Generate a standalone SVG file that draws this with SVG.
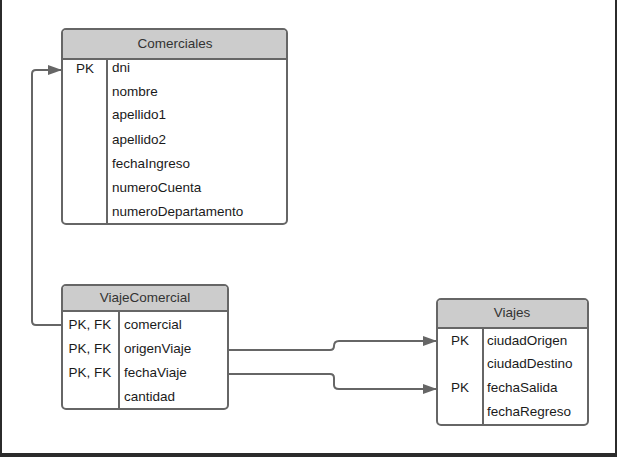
<svg xmlns="http://www.w3.org/2000/svg" width="617" height="457" viewBox="0 0 617 457">
  <style>
    .box { fill: #ffffff; stroke: #666666; stroke-width: 2; }
    .head { fill: #cccccc; }
    .line { stroke: #666666; stroke-width: 2; fill: none; }
    .t { font-family: "Liberation Sans", Arial, sans-serif; font-size: 13.5px; fill: #1a1a1a; }
    .title { font-family: "Liberation Sans", Arial, sans-serif; font-size: 13.5px; fill: #333333; text-anchor: middle; }
    .key { text-anchor: middle; }
    .conn { stroke: #666666; stroke-width: 2; fill: none; }
  </style>
  <defs>
    <marker id="arrow" markerWidth="14" markerHeight="10" refX="14" refY="5" orient="auto" markerUnits="userSpaceOnUse">
      <path d="M0,0 L14,5 L0,10 Z" fill="#666666"/>
    </marker>
  </defs>

  <rect x="0" y="0" width="617" height="457" fill="#ffffff"/>
  <!-- frame edges -->
  <rect x="0" y="0" width="2" height="457" fill="#2b2b2b"/>
  <rect x="615" y="0" width="2" height="457" fill="#2b2b2b"/>
  <rect x="0" y="453" width="617" height="4" fill="#2b2b2b"/>

  <g id="connectors">
    <path class="conn" d="M62,325 L36,325 Q32,325 32,321 L32,74 Q32,70 36,70 L62,70" marker-end="url(#arrow)"/>
    <path class="conn" d="M228,350 L330,350 Q334,350 334,346 Q334,341 339,341 L437,341" marker-end="url(#arrow)"/>
    <path class="conn" d="M228,374 L330,374 Q334,374 334,378 L334,385 Q334,389 339,389 L437,389" marker-end="url(#arrow)"/>
  </g>

  <g id="comerciales">
    <rect class="box" x="62" y="29" width="225" height="195" rx="4"/>
    <path class="head" d="M63,59 L63,33 Q63,30 66,30 L283,30 Q286,30 286,33 L286,59 Z"/>
    <line class="line" x1="62" y1="59" x2="287" y2="59"/>
    <line class="line" x1="107" y1="59" x2="107" y2="224"/>
    <text class="title" x="175" y="48">Comerciales</text>
    <text class="t key" x="85" y="73">PK</text>
    <text class="t" x="112" y="72">dni</text>
    <text class="t" x="112" y="96">nombre</text>
    <text class="t" x="112" y="119">apellido1</text>
    <text class="t" x="112" y="144">apellido2</text>
    <text class="t" x="112" y="168">fechaIngreso</text>
    <text class="t" x="112" y="192">numeroCuenta</text>
    <text class="t" x="112" y="216">numeroDepartamento</text>
  </g>

  <g id="viajecomercial">
    <rect class="box" x="62" y="285" width="166" height="124" rx="4"/>
    <path class="head" d="M63,311 L63,289 Q63,286 66,286 L224,286 Q227,286 227,289 L227,311 Z"/>
    <line class="line" x1="62" y1="311" x2="228" y2="311"/>
    <line class="line" x1="119" y1="311" x2="119" y2="409"/>
    <text class="title" x="145" y="302">ViajeComercial</text>
    <text class="t key" x="90" y="329">PK, FK</text>
    <text class="t" x="124" y="329">comercial</text>
    <text class="t key" x="90" y="353">PK, FK</text>
    <text class="t" x="124" y="353">origenViaje</text>
    <text class="t key" x="90" y="377">PK, FK</text>
    <text class="t" x="124" y="377">fechaViaje</text>
    <text class="t" x="124" y="401">cantidad</text>
  </g>

  <g id="viajes">
    <rect class="box" x="437" y="299" width="151" height="126" rx="4"/>
    <path class="head" d="M438,328 L438,303 Q438,300 441,300 L584,300 Q587,300 587,303 L587,328 Z"/>
    <line class="line" x1="437" y1="328" x2="588" y2="328"/>
    <line class="line" x1="483" y1="328" x2="483" y2="425"/>
    <text class="title" x="512" y="317">Viajes</text>
    <text class="t key" x="460" y="345">PK</text>
    <text class="t" x="487" y="345">ciudadOrigen</text>
    <text class="t" x="487" y="368">ciudadDestino</text>
    <text class="t key" x="460" y="392">PK</text>
    <text class="t" x="487" y="392">fechaSalida</text>
    <text class="t" x="487" y="416">fechaRegreso</text>
  </g>
</svg>
